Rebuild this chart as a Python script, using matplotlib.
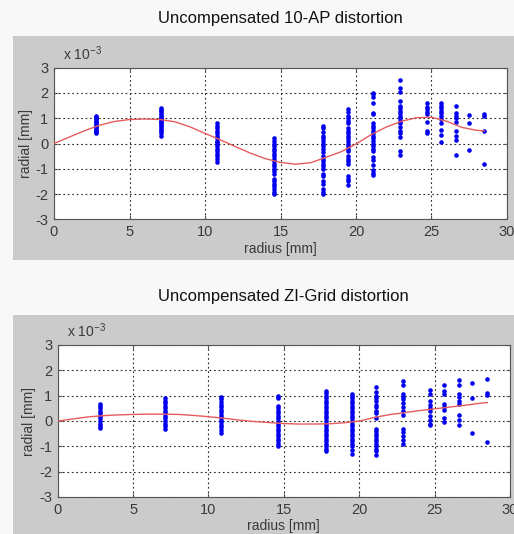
import matplotlib
matplotlib.use("Agg")
import matplotlib.pyplot as plt
from matplotlib.patches import Rectangle

plt.rcParams['font.family'] = ['Liberation Sans', 'DejaVu Sans']
plt.rcParams['axes.unicode_minus'] = False

# Measurement radii (mm) of the target rings
radii = [2.8, 7.1, 10.8, 14.6, 17.8, 19.5, 21.1, 22.9, 24.7, 25.6, 26.6, 27.5, 28.5]

# Radial residuals (x 1e-3 mm), 10-AP model
ap_points = [
    [1.1, 1.05, 1.0, 0.95, 0.9, 0.85, 0.8, 0.75, 0.7, 0.65, 0.6, 0.55, 0.5, 0.45, 0.4],
    [1.39, 1.33, 1.27, 1.2, 1.12, 1.05, 1.0, 0.95, 0.9, 0.85, 0.8, 0.75, 0.7, 0.62, 0.55, 0.48, 0.4, 0.3],
    [0.8, 0.7, 0.6, 0.5, 0.4, 0.3, 0.2, 0.1, 0.05, 0.0, -0.1, -0.2, -0.3, -0.4, -0.5, -0.6, -0.73],
    [0.2, 0.1, 0.0, -0.1, -0.2, -0.3, -0.4, -0.5, -0.6, -0.7, -0.8, -0.9, -1.0, -1.1, -1.2,
     -1.4, -1.5, -1.6, -1.7, -1.8, -1.9, -2.0],
    [0.7, 0.6, 0.45, 0.3, 0.2, 0.1, 0.0, -0.1, -0.2, -0.35, -0.5, -0.6, -0.7, -0.8, -0.9,
     -1.0, -1.2, -1.3, -1.5, -1.6, -1.8, -1.9, -2.0],
    [1.35, 1.25, 1.1, 1.0, 0.9, 0.8, 0.6, 0.5, 0.4, 0.3, 0.2, 0.1, 0.0, -0.1, -0.2, -0.3,
     -0.5, -0.6, -0.7, -0.8, -1.3, -1.4, -1.5, -1.65],
    [2.0, 1.95, 1.85, 1.6, 1.2, 1.15, 0.8, 0.7, 0.6, 0.5, 0.4, 0.3, 0.2, 0.1, 0.0, -0.1,
     -0.2, -0.3, -0.55, -0.65, -0.85, -1.05, -1.15, -1.25],
    [2.5, 2.2, 2.05, 1.7, 1.5, 1.4, 1.3, 1.2, 1.1, 1.0, 0.9, 0.8, 0.65, 0.5, 0.4, 0.25, -0.3, -0.45],
    [1.6, 1.45, 1.35, 1.25, 1.15, 0.85, 0.5, 0.4],
    [1.6, 1.5, 1.4, 1.3, 1.2, 1.1, 0.95, 0.8, 0.55, 0.35, 0.05],
    [1.48, 1.2, 1.1, 1.0, 0.85, 0.5, 0.3, 0.15, -0.45],
    [1.12, 0.8, -0.27],
    [1.17, 1.1, 0.5, -0.82],
]

# Radial residuals (x 1e-3 mm), ZI-Grid model
zi_points = [
    [0.66, 0.6, 0.5, 0.4, 0.3, 0.2, 0.1, 0.0, -0.1, -0.2, -0.29],
    [0.9, 0.8, 0.7, 0.6, 0.5, 0.4, 0.3, 0.2, 0.1, 0.0, -0.1, -0.2, -0.33],
    [0.95, 0.85, 0.75, 0.65, 0.55, 0.45, 0.35, 0.25, 0.15, 0.05, -0.05, -0.15, -0.25, -0.35, -0.46],
    [1.0, 0.9, 0.6, 0.5, 0.4, 0.3, 0.2, 0.1, 0.0, -0.1, -0.2, -0.3, -0.4, -0.5, -0.6, -0.7,
     -0.8, -0.9, -1.0],
    [1.19, 1.1, 1.0, 0.9, 0.8, 0.7, 0.6, 0.5, 0.4, 0.3, 0.2, 0.1, 0.0, -0.1, -0.2, -0.3,
     -0.4, -0.5, -0.6, -0.7, -0.8, -0.9, -1.0, -1.1, -1.19],
    [1.08, 1.0, 0.9, 0.8, 0.7, 0.6, 0.5, 0.4, 0.3, 0.2, 0.1, 0.0, -0.1, -0.2, -0.3, -0.4,
     -0.5, -0.6, -0.7, -0.8, -0.9, -1.0, -1.15, -1.32],
    [1.35, 1.15, 1.0, 0.9, 0.8, 0.65, 0.55, 0.4, 0.3, 0.1, -0.3, -0.4, -0.5, -0.6, -0.7,
     -0.8, -0.9, -1.0, -1.1, -1.2, -1.36],
    [1.57, 1.41, 1.05, 0.95, 0.85, 0.7, 0.55, 0.4, 0.25, -0.3, -0.45, -0.6, -0.75, -0.9],
    [1.24, 1.08, 0.8, 0.65, 0.5, 0.4, 0.2, 0.05, -0.1, -0.17],
    [1.44, 1.19, 1.08, 0.68, 0.55, 0.42, 0.1, -0.04],
    [1.6, 1.41, 1.08, 0.95, 0.8, 0.68, 0.22, 0.05, -0.15],
    [1.5, 0.92, -0.47],
    [1.65, 1.1, 1.04, -0.84],
]

# Fitted distortion curves (x 1e-3 mm)
fit_r = [0, 1, 2, 3, 4, 5, 6, 7, 8, 9, 10, 11, 12, 13, 14, 15, 16, 17, 18, 19, 20,
         21, 22, 23, 24, 25, 26, 27, 28, 28.5]
ap_fit = [0, 0.25, 0.5, 0.72, 0.87, 0.95, 0.97, 0.95, 0.86, 0.66, 0.4, 0.15, -0.12,
          -0.38, -0.6, -0.75, -0.82, -0.76, -0.55, -0.33, -0.02, 0.35, 0.65, 0.88,
          1.02, 1.04, 0.88, 0.64, 0.52, 0.5]
zi_fit = [0, 0.08, 0.16, 0.21, 0.24, 0.26, 0.27, 0.27, 0.26, 0.22, 0.17, 0.11, 0.04,
          -0.02, -0.06, -0.1, -0.12, -0.12, -0.11, -0.07, 0.0, 0.14, 0.25, 0.33, 0.41,
          0.48, 0.55, 0.62, 0.7, 0.73]

titles = ["Uncompensated 10-AP distortion", "Uncompensated ZI-Grid distortion"]
x_ticks = [0, 5, 10, 15, 20, 25, 30]
y_ticks = [-3, -2, -1, 0, 1, 2, 3]

W, H = 514, 534
fig = plt.figure(figsize=(W / 100, H / 100), dpi=100, facecolor='#f8f8f8')

panel_color = '#cbcbcb'
text_color = '#3a3a3a'

# pixel layout: (panel top, panel bottom, axes left, axes right, axes top, axes bottom, title y)
layouts = [
    (36, 260, 54, 507, 67.7, 219.3, 18),
    (315, 534, 57.7, 510, 345, 497, 296),
]

for (ptop, pbot, aleft, aright, atop, abot, ty), title, pts, fit in zip(
        layouts, titles, [ap_points, zi_points], [ap_fit, zi_fit]):
    panel = Rectangle((13 / W, 1 - pbot / H), 1, (pbot - ptop) / H,
                      transform=fig.transFigure, facecolor=panel_color,
                      edgecolor='none', zorder=-10)
    fig.add_artist(panel)
    fig.text((aleft + aright) / 2 / W, 1 - ty / H, title, ha='center', va='center',
             fontsize=12, color='#111111')
    ax = fig.add_axes([aleft / W, 1 - abot / H, (aright - aleft) / W, (abot - atop) / H])
    ax.set_facecolor('white')
    for r, vals in zip(radii, pts):
        ax.plot([r] * len(vals), vals, linestyle='none', marker='o', markersize=3.3,
                color='#0000ee', markeredgewidth=0, zorder=3)
    ax.plot(fit_r, fit, color='#e65c5c', linewidth=1.0, zorder=4)
    ax.set_xlim(0, 30)
    ax.set_ylim(-3, 3)
    ax.set_xticks(x_ticks)
    ax.set_yticks(y_ticks)
    ax.grid(True, linestyle=(0, (1.5, 2.5)), color='#222222', linewidth=0.8)
    ax.tick_params(direction='in', length=3, top=True, right=True, labelsize=10.5,
                   colors='#555555', labelcolor=text_color, pad=4)
    for s in ax.spines.values():
        s.set_color('#555555')
        s.set_linewidth(0.8)
    ax.set_xlabel('radius [mm]', fontsize=10, color=text_color, labelpad=2)
    ax.set_ylabel('radial [mm]', fontsize=10, color=text_color, labelpad=2)
    ax.text(0.02, 1.03, r'x 10$^{\mathregular{-3}}$', transform=ax.transAxes, fontsize=10,
            color=text_color, ha='left', va='bottom')

fig.savefig('out.png', dpi=100, facecolor=fig.get_facecolor())
